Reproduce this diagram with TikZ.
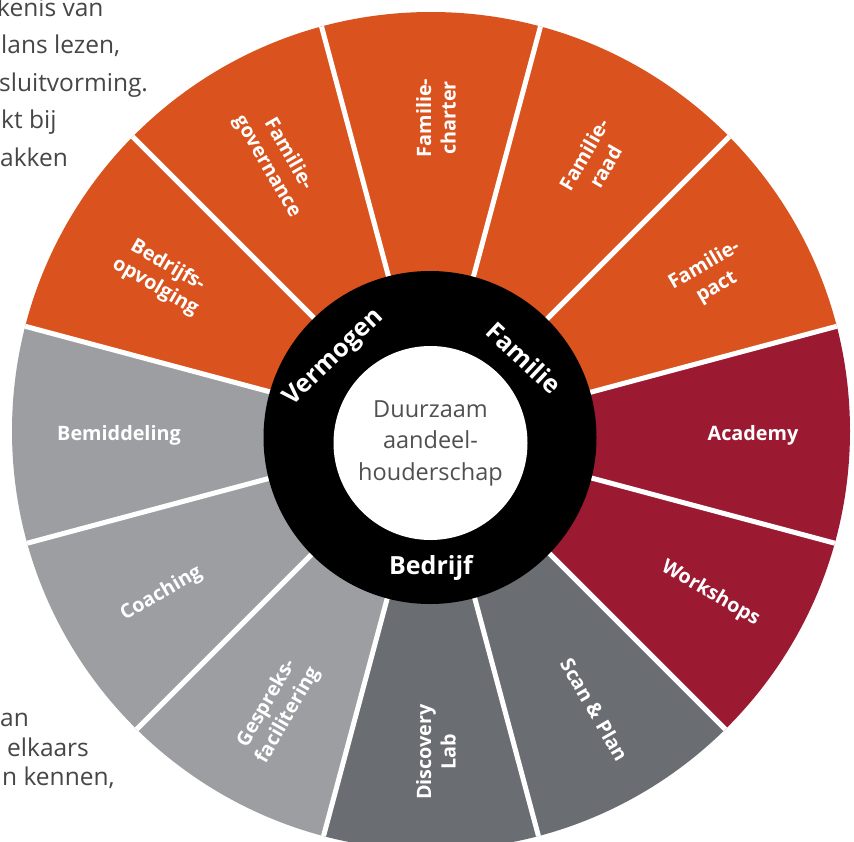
\documentclass[tikz,border=0pt]{standalone}
\usepackage{fontspec}
\setmainfont{Open Sans}
\usetikzlibrary{calc}
\definecolor{worange}{HTML}{DA531E}
\definecolor{wred}{HTML}{9C1A31}
\definecolor{wlgrey}{HTML}{9C9EA1}
\definecolor{wdgrey}{HTML}{6A6D71}
\definecolor{txtgrey}{HTML}{464646}
\definecolor{centregrey}{HTML}{505050}
\begin{document}
\begin{tikzpicture}[x=1pt,y=1pt,
  seglabel/.style={text=white,font=\fontsize{19.8}{24.5}\selectfont\bfseries,align=center,inner sep=0pt},
  ringlabel/.style={text=white,font=\fontsize{25}{28}\selectfont\bfseries,inner sep=0pt},
  bgtext/.style={text=txtgrey,font=\fontsize{24.5}{30}\selectfont,inner sep=0pt,anchor=base west}]
\useasboundingbox (0,0) rectangle (854,-841);
\fill[white] (0,0) rectangle (854,-841);
\coordinate (wc) at (431,-435);
\begin{scope}
\clip (431,-431) circle[radius=419];
\foreach \a/\c in {0/wred,30/worange,60/worange,90/worange,120/worange,150/worange,180/wlgrey,210/wlgrey,240/wlgrey,270/wdgrey,300/wdgrey,330/wred}{
  \fill[\c] (wc) -- ++(\a-15:600) arc[start angle=\a-15,end angle=\a+15,radius=600] -- cycle;
}
\foreach \a in {15,45,...,345}{\draw[white,line width=5pt] (wc) -- ++(\a:600);}
\end{scope}
\fill[black] (430,-437.5) circle[radius=166.5];
\fill[white] (430.5,-443) circle[radius=97];
\coordinate (lc) at (436,-435);
\node[seglabel] (academy) at ($(lc)+(0:317)$) {Academy};
\node[seglabel,rotate=30] (pact) at ($(lc)+(30:317)$) {Familie-\\pact};
\node[seglabel,rotate=60] (raad) at ($(lc)+(60:317)$) {Familie-\\raad};
\node[seglabel,rotate=90] (charter) at ($(lc)+(90:317)$) {Familie-\\charter};
\node[seglabel,rotate=-60] (governance) at ($(lc)+(120:317)$) {Familie-\\governance};
\node[seglabel,rotate=-30] (opvolging) at ($(lc)+(150:317)$) {Bedrijfs-\\opvolging};
\node[seglabel] (bemiddeling) at ($(lc)+(180:317)$) {Bemiddeling};
\node[seglabel,rotate=30] (coaching) at ($(lc)+(210:317)$) {Coaching};
\node[seglabel,rotate=60] (gespreks) at ($(lc)+(240:317)$) {Gespreks-\\facilitering};
\node[seglabel,rotate=90] (discovery) at ($(lc)+(270:317)$) {Discovery\\Lab};
\node[seglabel,rotate=-60] (scan) at ($(lc)+(300:317)$) {Scan \& Plan};
\node[seglabel,rotate=-30] (workshops) at ($(lc)+(330:317)$) {Workshops};
\node[ringlabel,rotate=44] (vermogen) at (334,-358) {Vermogen};
\node[ringlabel,rotate=-43] (familie) at (524,-358) {Familie};
\node[ringlabel,anchor=base] (bedrijf) at (431,-574) {Bedrijf};
\node[text=centregrey,align=center,inner sep=0pt,font=\fontsize{23.5}{31.5}\selectfont] (centre) at (430.5,-443) {Duurzaam\\aandeel-\\houderschap};
\node[bgtext] (t1) at (-3,-16) {kenis van};
\node[bgtext] (t2) at (1,-53) {lans lezen,};
\node[bgtext] (t3) at (-1,-91) {sluitvorming.};
\node[bgtext] (t4) at (1,-128) {kt bij};
\node[bgtext] (t5) at (0,-166) {akken};
\node[bgtext] (b1) at (0,-726) {an};
\node[bgtext] (b2) at (7,-756) {elkaars};
\node[bgtext] (b3) at (2,-785) {n kennen,};
\end{tikzpicture}
\end{document}
